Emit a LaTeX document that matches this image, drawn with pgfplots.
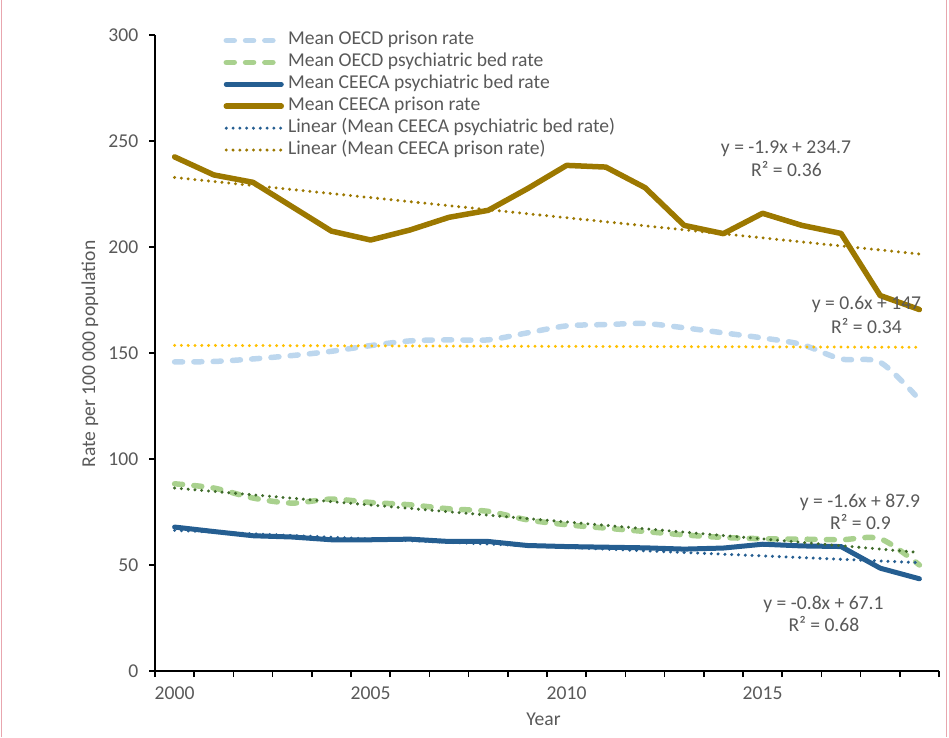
\documentclass[border=0pt]{standalone}
\usepackage{fontspec}
\setmainfont{Carlito}
\usepackage{pgfplots}
\usepackage{pgfplotstable}
\pgfplotsset{compat=1.18}
\definecolor{txt}{HTML}{595959}
\definecolor{oecdb}{HTML}{BDD7EE}
\definecolor{oecdg}{HTML}{A9D18E}
\definecolor{ceecab}{HTML}{255E91}
\definecolor{ceecap}{HTML}{9C7800}
\definecolor{trendy}{HTML}{FFC000}
\definecolor{trendg}{HTML}{3F6B2A}
\definecolor{pinkb}{HTML}{E8A6AE}
\pgfplotstableread{
yr op og cb cp
2000 145.8 88.3 67.9 242.5
2001 146.0 86.3 65.8 234.0
2002 147.2 81.6 63.8 230.5
2003 148.8 79.2 63.2 219.0
2004 150.8 81.1 61.9 207.5
2005 153.5 79.5 61.9 203.3
2006 155.7 78.4 62.2 208.0
2007 156.2 76.5 61.1 214.0
2008 156.2 75.3 61.1 217.3
2009 159.5 71.3 59.2 227.5
2010 162.8 69.0 58.7 238.5
2011 163.4 67.4 58.4 237.7
2012 163.9 65.8 58.1 228.0
2013 161.9 64.2 57.5 210.2
2014 159.5 63.0 58.0 206.3
2015 157.1 62.4 59.8 215.9
2016 154.0 62.2 59.0 210.2
2017 147.2 61.9 58.7 206.4
2018 145.6 62.4 48.5 177.1
2019 128.0 50.0 43.5 170.5
}\data
\begin{document}
\fontsize{19.6}{23.5}\selectfont
\begin{tikzpicture}
\useasboundingbox (0,0) rectangle (949pt,737pt);
\draw[pinkb, line width=1pt] (1.5pt,0) -- (1.5pt,737pt);
\draw[pinkb, line width=1pt] (946pt,0) -- (946pt,737pt);
\begin{axis}[
  at={(155pt,66pt)}, anchor=south west,
  scale only axis, width=784pt, height=636pt,
  xmin=1999.5, xmax=2019.5, ymin=0, ymax=300,
  axis x line*=bottom, axis y line*=left,
  axis line style={black, line width=1.5pt, -},
  xtick={1999.5,2000.5,...,2019.5},
  xticklabels={},
  extra x ticks={2000,2005,2010,2015},
  extra x tick labels={2000,2005,2010,2015},
  extra x tick style={major tick length=0pt, tick style={draw=none},
     xticklabel style={yshift=-9pt}},
  ytick={0,50,...,300},
  major tick length=6pt,
  tick align=outside,
  tick style={black, line width=1.5pt},
  ticklabel style={font=\fontsize{19.6}{23.5}\selectfont, text=txt},
  yticklabel style={xshift=-4pt},
  /pgf/number format/assume math mode=true,
  legend style={draw=none, fill=none, at={(0.0874,1.0085)}, anchor=north west,
    inner sep=0pt, outer sep=0pt, row sep=0pt,
    font=\fontsize{19.6}{23.5}\selectfont, text=txt,
    nodes={inner ysep=2pt, text height=13.4pt, text depth=4.5pt},
    /tikz/every odd column/.append style={column sep=2pt},
    /tikz/every even column/.append style={column sep=0pt}},
  legend cell align=left,
  legend image code/.code={\draw[#1] (0pt,0pt) -- (55pt,0pt);},
]
\addplot[oecdb, line width=5.5pt, line cap=round, dash pattern=on 8pt off 11.3pt, smooth] table[x=yr,y=op] {\data};
\addlegendentry{Mean OECD prison rate}
\addplot[oecdg, line width=5.5pt, line cap=round, dash pattern=on 8pt off 11.3pt, smooth] table[x=yr,y=og] {\data};
\addlegendentry{Mean OECD psychiatric bed rate}
\addplot[ceecab, line width=5pt, line cap=round, line join=round] table[x=yr,y=cb] {\data};
\addlegendentry{Mean CEECA psychiatric bed rate}
\addplot[ceecap, line width=5.5pt, line cap=round, line join=round] table[x=yr,y=cp] {\data};
\addlegendentry{Mean CEECA prison rate}
\addplot[ceecab, line width=3.3pt, line cap=round, dash pattern=on 0pt off 6.8pt] coordinates {(2000,66.3) (2019,51.1)};
\addlegendentry{Linear (Mean CEECA psychiatric bed rate)}
\addplot[ceecap, line width=3.3pt, line cap=round, dash pattern=on 0pt off 6.8pt] coordinates {(2000,232.8) (2019,196.7)};
\addlegendentry{Linear (Mean CEECA prison rate)}
\addplot[trendy, line width=3.3pt, line cap=round, dash pattern=on 0pt off 6.8pt, forget plot] coordinates {(2000,153.6) (2019,152.7)};
\addplot[trendg, line width=3.3pt, line cap=round, dash pattern=on 0pt off 6.8pt, forget plot] coordinates {(2000,86.3) (2019,55.9)};
\end{axis}
\node[txt, anchor=base] at (786pt,583.7pt) {y = -1.9x + 234.7};
\node[txt, anchor=base] at (786.5pt,560pt) {R² = 0.36};
\node[txt, anchor=base] at (866.5pt,427pt) {y = 0.6x + 147};
\node[txt, anchor=base] at (866.5pt,403.3pt) {R² = 0.34};
\node[txt, anchor=base] at (860pt,230pt) {y = -1.6x + 87.9};
\node[txt, anchor=base] at (860.5pt,208pt) {R² = 0.9};
\node[txt, anchor=base] at (823.5pt,128pt) {y = -0.8x + 67.1};
\node[txt, anchor=base] at (824pt,106pt) {R² = 0.68};
\node[txt, rotate=90, anchor=center] at (90pt,383pt) {Rate per 100 000 population};
\node[txt, anchor=base] at (543.5pt,12pt) {Year};
\end{tikzpicture}
\end{document}
